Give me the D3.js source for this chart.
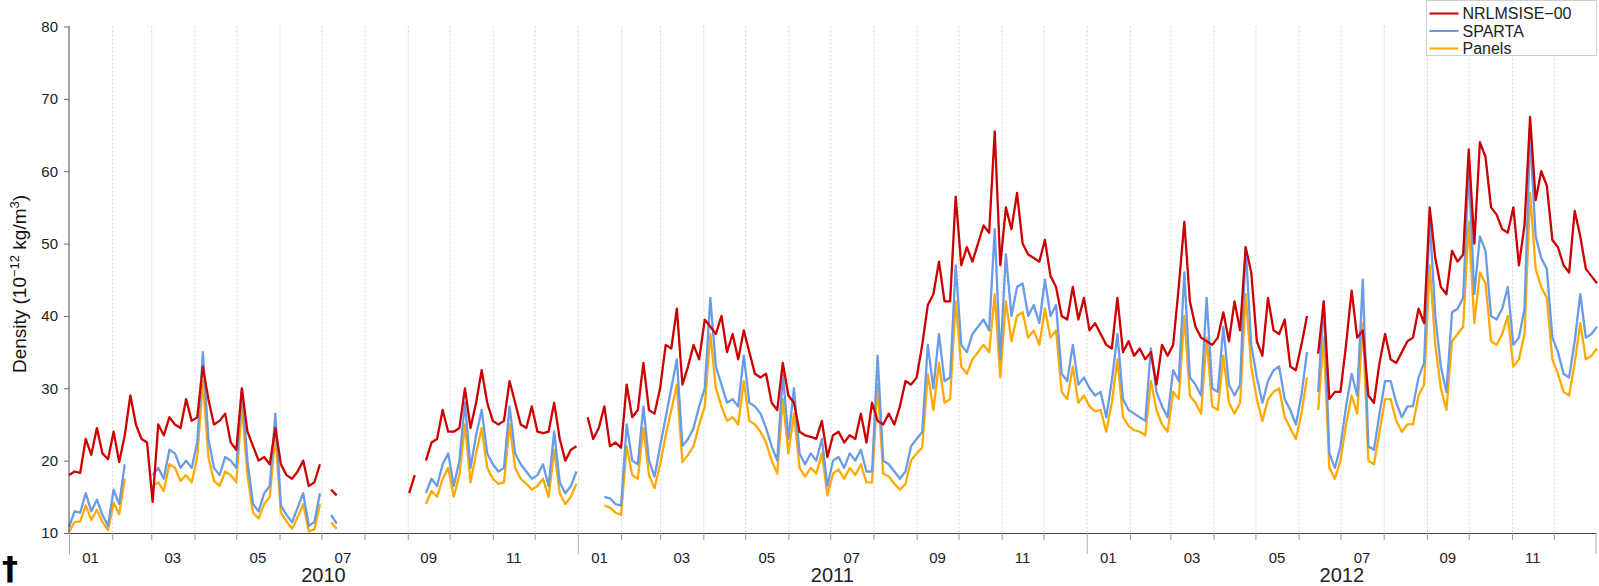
<!DOCTYPE html>
<html>
<head>
<meta charset="utf-8">
<script src="https://cdn.jsdelivr.net/npm/d3@7"></script>
<style>
  html, body { margin: 0; padding: 0; background: #ffffff; }
  svg { display: block; font-family: "Liberation Sans", Arial, Helvetica, sans-serif; }
</style>
</head>
<body>
<svg id="chart" width="1599" height="586"></svg>
<script>
// Daily-mean density samples, one value every `stepDays` days from `startDate` (null = no data)
const startDate = "2010-01-01";
const endDate = "2013-01-01";
const stepDays = 4;

const nrlmsise = [
  18.0, 18.5, 18.3, 23.0, 20.8, 24.5, 21.0, 20.2, 24.0, 19.8,
  23.5, 29.0, 25.0, 23.0, 22.5, 14.3, 25.0, 23.5, 26.0, 25.0,
  24.5, 28.5, 25.5, 26.0, 33.0, 28.5, 25.0, 25.5, 26.5, 22.5,
  21.5, 30.0, 24.0, 22.0, 20.0, 20.5, 19.5, 24.5, 19.5, 18.0,
  17.5, 18.5, 20.0, 16.5, 17.0, 19.5, null, 16.0, 15.2, null,
  null, null, null, null, null, null, null, null, null, null,
  null, 15.5, 18.0, null, 20.0, 22.5, 23.0, 27.0, 24.0, 24.0,
  24.5, 30.0, 24.5, 28.0, 32.5, 28.0, 25.5, 25.0, 25.5, 31.0,
  28.0, 25.0, 24.5, 27.5, 24.0, 23.8, 24.0, 28.0, 23.0, 20.0,
  21.5, 22.0, null, 26.0, 23.0, 24.5, 27.5, 22.0, 22.5, 21.8,
  30.5, 26.0, 27.0, 33.5, 27.0, 26.5, 30.0, 36.0, 35.5, 41.0,
  30.5, 33.0, 36.0, 34.0, 39.5, 38.5, 37.5, 40.0, 35.0, 37.5,
  34.0, 38.0, 35.0, 32.0, 31.5, 32.0, 28.0, 27.0, 33.5, 29.0,
  28.0, 24.0, 23.5, 23.3, 23.0, 25.5, 20.5, 23.5, 24.0, 22.5,
  23.5, 23.0, 26.5, 22.5, 28.0, 25.5, 25.0, 26.5, 25.0, 27.5,
  31.0, 30.5, 31.5, 36.0, 41.5, 43.0, 47.5, 42.0, 42.0, 56.5,
  47.0, 49.5, 47.5, 50.0, 52.5, 51.5, 65.5, 47.0, 55.0, 52.0,
  57.0, 50.0, 48.5, 48.0, 47.5, 50.5, 45.5, 44.0, 40.0, 39.5,
  44.0, 39.5, 42.5, 38.0, 39.0, 37.5, 36.0, 35.5, 42.5, 35.0,
  36.5, 34.5, 35.5, 34.0, 35.0, 30.5, 36.0, 34.5, 36.0, 44.0,
  53.0, 42.0, 38.5, 37.0, 36.5, 36.0, 37.0, 40.5, 36.5, 42.0,
  38.0, 49.5, 46.0, 36.5, 34.5, 42.5, 38.0, 37.5, 39.5, 33.0,
  32.5, 36.0, 40.0, null, 34.8, 42.0, 28.5, 29.5, 29.5, 36.0,
  43.5, 37.0, 38.0, 29.0, 28.0, 33.5, 37.5, 34.0, 33.5, 35.0,
  36.5, 37.0, 41.0, 39.0, 55.0, 48.0, 44.0, 43.0, 49.0, 47.5,
  48.5, 63.0, 50.0, 64.0, 62.0, 55.0, 54.0, 52.0, 51.5, 55.0,
  47.0, 52.5, 67.5, 56.0, 60.0, 58.0, 50.5, 49.5, 47.0, 46.0,
  54.5, 51.0, 46.5, 45.5, 44.5
];

const sparta = [
  10.8, 13.0, 12.8, 15.5, 13.0, 14.6, 12.5, 11.0, 16.0, 14.0,
  19.5, null, null, null, null, 18.0, 19.0, 17.5, 21.5, 21.0,
  19.0, 20.0, 19.0, 22.5, 35.0, 23.0, 19.0, 18.0, 20.5, 20.0,
  19.0, 30.0, 20.0, 14.0, 13.0, 15.5, 16.5, 26.5, 13.8, 12.5,
  11.5, 13.5, 15.5, 11.0, 11.5, 15.5, null, 12.5, 11.3, null,
  null, null, null, null, null, null, null, null, null, null,
  null, null, null, null, 15.5, 17.5, 16.5, 19.5, 21.0, 16.5,
  20.0, 28.0, 19.0, 23.5, 27.0, 21.0, 19.5, 18.5, 19.0, 27.5,
  21.0, 19.5, 18.5, 17.5, 18.0, 19.5, 16.5, 24.0, 17.0, 15.5,
  16.5, 18.5, null, null, null, null, 15.0, 14.8, 14.0, 13.8,
  25.0, 20.0, 19.5, 27.5, 20.0, 17.8, 22.0, 26.0, 30.0, 34.0,
  22.0, 23.0, 24.5, 27.5, 30.0, 42.5, 33.0, 30.5, 28.0, 28.5,
  27.5, 34.5, 28.0, 27.5, 26.5, 24.5, 22.0, 20.0, 32.0, 23.0,
  30.0, 21.0, 19.5, 21.0, 20.0, 23.0, 16.5, 20.0, 20.5, 19.0,
  21.0, 20.0, 21.5, 18.5, 18.5, 34.5, 20.0, 19.5, 18.5, 17.5,
  18.5, 22.0, 23.0, 24.0, 36.0, 30.0, 37.5, 31.0, 31.5, 47.0,
  36.0, 35.0, 37.5, 38.5, 39.5, 38.0, 52.0, 34.0, 48.5, 40.0,
  44.0, 44.5, 40.0, 41.5, 39.0, 45.0, 40.0, 41.5, 32.0, 31.0,
  36.0, 30.5, 31.5, 30.0, 29.0, 29.5, 26.0, 31.0, 37.5, 28.5,
  27.0, 26.5, 26.0, 25.5, 35.5, 29.5, 27.5, 26.0, 32.5, 31.0,
  46.0, 31.5, 30.5, 29.0, 42.5, 30.0, 29.5, 38.5, 30.5, 29.0,
  30.5, 49.5, 36.0, 31.5, 28.0, 31.0, 32.5, 33.0, 28.5, 27.0,
  25.0, 29.0, 35.0, null, 29.5, 42.0, 21.0, 19.0, 22.0, 27.5,
  32.0, 29.0, 45.0, 22.0, 21.5, 26.5, 31.0, 31.0, 28.0, 26.0,
  27.5, 27.5, 31.5, 33.5, 53.5, 40.0, 33.0, 29.5, 40.5, 41.0,
  42.5, 60.5, 43.0, 51.0, 49.0, 40.0, 39.5, 41.0, 44.0, 36.0,
  37.0, 41.0, 65.0, 51.0, 48.0, 46.5, 37.0, 35.0, 32.0, 31.5,
  36.5, 43.0, 37.0, 37.5, 38.5
];

const panels = [
  10.2, 11.5, 11.6, 13.8, 11.8, 13.2, 11.5, 10.4, 14.2, 12.6,
  17.5, null, null, null, null, 16.5, 17.0, 15.8, 19.5, 19.0,
  17.2, 18.0, 17.0, 20.5, 31.0, 20.5, 17.2, 16.5, 18.5, 18.0,
  17.0, 27.5, 18.0, 12.8, 12.0, 14.0, 15.0, 23.5, 12.8, 11.6,
  10.6, 12.2, 14.0, 10.2, 10.5, 14.0, null, 11.5, 10.6, null,
  null, null, null, null, null, null, null, null, null, null,
  null, null, null, null, 14.0, 15.8, 15.0, 17.5, 19.0, 15.0,
  18.0, 25.0, 17.0, 21.0, 24.5, 19.0, 17.5, 16.8, 17.0, 25.0,
  19.0, 17.5, 16.8, 16.0, 16.5, 17.5, 15.0, 21.5, 15.5, 14.0,
  15.0, 16.8, null, null, null, null, 13.8, 13.5, 12.8, 12.5,
  22.0, 18.0, 17.5, 24.5, 18.0, 16.2, 19.5, 23.5, 27.0, 30.5,
  19.8, 20.8, 22.0, 25.0, 27.5, 37.5, 30.0, 27.5, 25.5, 26.0,
  25.0, 31.0, 25.5, 25.0, 24.0, 22.5, 20.0, 18.2, 28.5, 21.0,
  26.5, 19.0, 17.8, 19.0, 18.2, 21.0, 15.2, 18.2, 18.8, 17.5,
  19.0, 18.0, 19.5, 17.0, 17.0, 30.5, 18.2, 17.8, 16.8, 16.0,
  16.8, 20.0, 21.0, 21.8, 32.0, 27.0, 33.5, 28.0, 28.5, 42.0,
  33.0, 32.0, 34.0, 35.0, 36.0, 35.0, 43.0, 31.5, 42.0, 36.5,
  40.0, 40.5, 37.0, 38.0, 36.0, 41.0, 37.0, 38.0, 29.5, 28.5,
  33.0, 28.0, 29.0, 27.5, 26.8, 27.0, 24.0, 28.0, 34.0, 26.0,
  24.8, 24.2, 24.0, 23.5, 31.0, 27.0, 25.0, 24.0, 29.5, 28.5,
  40.0, 29.0, 28.0, 26.5, 37.0, 27.5, 27.0, 34.5, 28.0, 26.5,
  28.0, 43.0, 33.0, 28.5, 25.5, 28.5, 29.5, 30.0, 26.0, 24.5,
  23.0, 26.5, 31.5, null, 27.0, 37.0, 19.0, 17.5, 20.0, 25.0,
  29.0, 26.5, 39.0, 20.0, 19.5, 24.0, 28.5, 28.5, 25.5, 24.0,
  25.0, 25.0, 29.0, 30.5, 47.0, 36.0, 30.0, 27.0, 36.5, 37.5,
  38.5, 53.0, 39.0, 46.0, 44.5, 36.5, 36.0, 37.5, 40.0, 33.0,
  34.0, 37.5, 57.0, 46.5, 44.0, 42.5, 34.0, 32.0, 29.5, 29.0,
  33.5, 39.0, 34.0, 34.5, 35.5
];

const seriesNames = ["NRLMSISE\u221200", "SPARTA", "Panels"];
const seriesColors = ["#cc0000", "#6a9be8", "#ffaa00"];
const yTicks = [10, 20, 30, 40, 50, 60, 70, 80];
const monthLabels = ["01", "03", "05", "07", "09", "11"];
const yearLabels = ["2010", "2011", "2012"];

// ---- layout ----
const svg = d3.select("#chart");
const plot = { left: 69, right: 1597, top: 26.5, bottom: 533 };

const t0 = d3.utcParse("%Y-%m-%d")(startDate);
const t1 = d3.utcParse("%Y-%m-%d")(endDate);

const x = d3.scaleUtc().domain([t0, t1]).range([plot.left, plot.right]);
const y = d3.scaleLinear().domain([10, 80]).range([plot.bottom, plot.top]);

const toPoints = arr => arr.map((v, i) => ({ date: d3.utcDay.offset(t0, i * stepDays), value: v }));

// ---- month gridlines ----
const monthStarts = d3.utcMonth.range(t0, t1);
svg.append("g")
  .selectAll("line")
  .data(monthStarts.slice(1))
  .join("line")
  .attr("x1", d => x(d) + 0.5).attr("x2", d => x(d) + 0.5)
  .attr("y1", plot.top).attr("y2", plot.bottom)
  .attr("stroke", "#d4d4d4")
  .attr("stroke-width", 1)
  .attr("stroke-dasharray", "2,2");

// ---- series lines (Panels underneath, NRLMSISE on top) ----
const line = d3.line()
  .defined(d => d.value != null)
  .x(d => x(d.date))
  .y(d => y(d.value));

const seriesData = [panels, sparta, nrlmsise];
const seriesOrderColors = [seriesColors[2], seriesColors[1], seriesColors[0]];
svg.append("g")
  .selectAll("path")
  .data(seriesData)
  .join("path")
  .attr("d", d => line(toPoints(d)))
  .attr("fill", "none")
  .attr("stroke", (d, i) => seriesOrderColors[i])
  .attr("stroke-width", 2.3)
  .attr("stroke-linejoin", "round");

// ---- y axis ----
const yAxis = d3.axisLeft(y).tickValues(yTicks).tickSize(5).tickPadding(6);
const gy = svg.append("g")
  .attr("transform", `translate(${plot.left},0)`)
  .call(yAxis);
gy.select(".domain").attr("stroke", "#444").attr("d", `M-0,${plot.bottom}V${plot.top - 0.5}`);
gy.selectAll(".tick line").attr("stroke", "#666");
gy.selectAll(".tick text")
  .attr("fill", "#222")
  .style("font-size", "15px")
  .style("font-family", "'Liberation Sans', Arial, sans-serif");

// ---- x axis: baseline, month ticks, year ticks ----
const gx = svg.append("g");
gx.append("line")
  .attr("x1", plot.left).attr("x2", plot.right)
  .attr("y1", plot.bottom + 0.5).attr("y2", plot.bottom + 0.5)
  .attr("stroke", "#444").attr("stroke-width", 1.2);

const yearStarts = d3.utcYear.range(t0, d3.utcDay.offset(t1, 1));
gx.selectAll("line.minor")
  .data(monthStarts.filter(d => d.getUTCMonth() !== 0))
  .join("line")
  .attr("class", "minor")
  .attr("x1", d => x(d) + 0.5).attr("x2", d => x(d) + 0.5)
  .attr("y1", plot.bottom).attr("y2", plot.bottom + 7)
  .attr("stroke", "#999");

gx.selectAll("line.major")
  .data(yearStarts)
  .join("line")
  .attr("class", "major")
  .attr("x1", d => Math.min(x(d) + 0.5, plot.right - 1)).attr("x2", d => Math.min(x(d) + 0.5, plot.right - 1))
  .attr("y1", plot.bottom).attr("y2", plot.bottom + 21)
  .attr("stroke", "#aaa");

// month labels at the middle of each odd month
const fmtMonth = d3.utcFormat("%m");
gx.selectAll("text.month")
  .data(monthStarts.filter(d => monthLabels.includes(fmtMonth(d))))
  .join("text")
  .attr("class", "month")
  .attr("x", d => (x(d) + x(d3.utcMonth.offset(d, 1))) / 2)
  .attr("y", 563)
  .attr("text-anchor", "middle")
  .attr("fill", "#222")
  .style("font-size", "15px")
  .text(d => fmtMonth(d));

// year labels centred under each year
gx.selectAll("text.year")
  .data(yearStarts.filter(d => yearLabels.includes(d3.utcFormat("%Y")(d))))
  .join("text")
  .attr("class", "year")
  .attr("x", d => (x(d) + x(d3.utcYear.offset(d, 1))) / 2)
  .attr("y", 582)
  .attr("text-anchor", "middle")
  .attr("fill", "#222")
  .style("font-size", "20px")
  .text(d => d3.utcFormat("%Y")(d));

// ---- y label ----
const yl = svg.append("text")
  .attr("transform", `translate(26,${284}) rotate(-90)`)
  .attr("text-anchor", "middle")
  .attr("fill", "#111")
  .style("font-size", "19px");
yl.append("tspan").text("Density (10");
yl.append("tspan").attr("dy", -7).style("font-size", "13px").text("\u221212");
yl.append("tspan").attr("dy", 7).text(" kg/m");
yl.append("tspan").attr("dy", -7).style("font-size", "13px").text("3");
yl.append("tspan").attr("dy", 7).text(")");

// ---- legend ----
const legend = svg.append("g").attr("transform", "translate(1426.5,0.5)");
legend.append("rect")
  .attr("width", 170).attr("height", 55)
  .attr("fill", "#fff").attr("stroke", "#cfcfcf");
const legendRows = legend.selectAll("g.row")
  .data(seriesNames)
  .join("g")
  .attr("class", "row")
  .attr("transform", (d, i) => `translate(0,${13 + i * 17.5})`);
legendRows.append("line")
  .attr("x1", 3).attr("x2", 32)
  .attr("stroke", (d, i) => seriesColors[i])
  .attr("stroke-width", 2);
legendRows.append("text")
  .attr("x", 36).attr("dy", "0.35em")
  .attr("fill", "#222")
  .style("font-size", "16px")
  .text(d => d);

// ---- footnote mark ----
svg.append("text")
  .attr("x", 10).attr("y", 579)
  .attr("text-anchor", "middle")
  .attr("fill", "#000")
  .style("font-family", "'DejaVu Sans', sans-serif")
  .style("font-weight", "bold")
  .style("font-size", "32px")
  .text("\u2020");
</script>
</body>
</html>
